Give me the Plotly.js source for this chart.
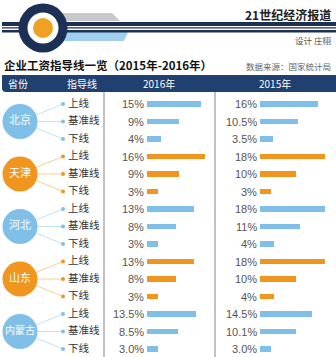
<!DOCTYPE html>
<html><head><meta charset="utf-8">
<script src="https://cdn.plot.ly/plotly-3.0.1.min.js"></script>
<style>html,body{margin:0;padding:0;background:#fff}#c{width:336px;height:357px}</style>
</head><body><div id="c"></div>
<script>
const provinces = ['北京','天津','河北','山东','内蒙古'];
const provColors = ['#7fbfe8','#f0961e','#7fbfe8','#f0961e','#7fbfe8'];
const lineTypes = ['上线','基准线','下线'];
const v2016 = [15,9,4,16,9,3,13,8,3,13,8,3,13.5,8.5,3.0];
const labels2016 = ['15%','9%','4%','16%','9%','3%','13%','8%','3%','13%','8%','3%','13.5%','8.5%','3.0%'];
const v2015 = [16,10.5,3.5,18,10,3,18,11,4,18,10,4,14.5,10.1,3.0];
const labels2015 = ['16%','10.5%','3.5%','18%','10%','3%','18%','11%','4%','18%','10%','4%','14.5%','10.1%','3.0%'];
const headers = ['省份','指导线','2016年','2015年'];
const title = '企业工资指导线一览（2015年-2016年）';
const source = '数据来源：国家统计局';
const brand = '21世纪经济报道';
const designer = '设计 庄栩';

const W=336,H=357;
const FONT='"Noto Sans CJK SC", "Noto Sans", sans-serif';
const NAVY='#1c2f55';
const px=x=>x/W, py=y=>1-y/H;
const rows=[...Array(15).keys()];
const rowColors=rows.map(i=>provColors[Math.floor(i/3)]);
const rowLabels=rows.map(i=>lineTypes[i%3]);

const traces=[];
provinces.forEach((p,k)=>{
  const mid=k*3+1;
  [0,1,2].forEach(j=>{
    traces.push({type:'scatter',mode:'lines',xaxis:'x',yaxis:'y',x:[20,63],y:[mid,k*3+j],
      line:{color:provColors[k],width:0.8},opacity:0.6,hoverinfo:'skip',showlegend:false});
  });
});
traces.push({type:'scatter',mode:'markers',xaxis:'x',yaxis:'y',x:rows.map(()=>63),y:rows,
  marker:{size:4,color:rowColors},hoverinfo:'skip',showlegend:false});
traces.push({type:'scatter',mode:'text',xaxis:'x',yaxis:'y',x:rows.map(()=>68),y:rows,text:rowLabels,
  textposition:'middle right',textfont:{family:FONT,size:10.5,color:'#333'},hoverinfo:'skip',showlegend:false});
traces.push({type:'scatter',mode:'markers+text',xaxis:'x',yaxis:'y',x:provinces.map(()=>20),
  y:provinces.map((p,k)=>k*3+1),text:provinces,textposition:'middle center',
  marker:{size:35,color:provColors,line:{width:0}},
  textfont:{family:FONT,size:provinces.map(p=>p.length>2?10:11),color:'#fff'},hoverinfo:'skip',showlegend:false});
traces.push({type:'bar',orientation:'h',xaxis:'x2',yaxis:'y',x:v2016,y:rows,width:0.3,
  marker:{color:rowColors},hoverinfo:'skip',showlegend:false});
traces.push({type:'bar',orientation:'h',xaxis:'x3',yaxis:'y',x:v2015,y:rows,width:0.3,
  marker:{color:rowColors},hoverinfo:'skip',showlegend:false});

const ann=[];
rows.forEach(i=>{
  ann.push({xref:'x2',yref:'y',x:0,y:i,text:labels2016[i],xanchor:'right',yanchor:'middle',xshift:-1,showarrow:false,
    font:{family:'"Liberation Sans", sans-serif',size:11,color:'#555'}});
  ann.push({xref:'x3',yref:'y',x:0,y:i,text:labels2015[i],xanchor:'right',yanchor:'middle',xshift:-1,showarrow:false,
    font:{family:'"Liberation Sans", sans-serif',size:11,color:'#555'}});
});
const hx=[18,82,159,275];
headers.forEach((h,k)=>ann.push({xref:'paper',yref:'paper',x:px(hx[k]),y:py(83.5),text:h,showarrow:false,
  xanchor:'center',yanchor:'middle',font:{family:FONT,size:10,color:'#fff'}}));
ann.push({xref:'paper',yref:'paper',x:px(2),y:py(65),text:'<b>'+title+'</b>',showarrow:false,xanchor:'left',yanchor:'middle',
  font:{family:FONT,size:11.5,color:'#111'}});
ann.push({xref:'paper',yref:'paper',x:px(333),y:py(66),text:source,showarrow:false,xanchor:'right',yanchor:'middle',
  font:{family:FONT,size:8.5,color:'#666'}});
ann.push({xref:'paper',yref:'paper',x:px(333),y:py(15),text:'<b>'+brand+'</b>',showarrow:false,xanchor:'right',yanchor:'middle',
  font:{family:FONT,size:12,color:'#222'}});
ann.push({xref:'paper',yref:'paper',x:px(333),y:py(40),text:designer,showarrow:false,xanchor:'right',yanchor:'middle',
  font:{family:FONT,size:8.5,color:'#555'}});

const shapes=[];
const R=(x0,y0,x1,y1,c)=>({type:'rect',xref:'paper',yref:'paper',x0:px(x0),x1:px(x1),y0:py(y0),y1:py(y1),fillcolor:c,line:{width:0},layer:'below'});
const C=(cx,cy,r,c)=>({type:'circle',xref:'paper',yref:'paper',x0:px(cx-r),x1:px(cx+r),y0:py(cy+r),y1:py(cy-r),fillcolor:c,line:{width:0},layer:'below'});
const P=(pts,c)=>({type:'path',xref:'paper',yref:'paper',path:'M'+pts.map(p=>px(p[0])+','+py(p[1])).join('L')+'Z',fillcolor:c,line:{width:0},layer:'below'});
shapes.push(P([[45,13],[112,13],[120,21],[45,21]],'#c9c9c9'));
shapes.push(P([[50,32],[128,32],[124,41],[58,41]],'#9fd0ee'));
shapes.push(R(2,22,336,26,NAVY));
shapes.push(R(2,27.2,336,28.6,NAVY));
shapes.push(R(2,30,336,32.5,NAVY));
shapes.push(C(43,28,24.5,NAVY));
shapes.push(C(43,28,15.5,'#fff'));
shapes.push(C(43,28,10,'#f0a124'));
shapes.push({type:'path',xref:'paper',yref:'paper',layer:'below',fillcolor:'#20406f',line:{width:0},
  path:`M${px(2)},${py(75)}L${px(336)},${py(75)}L${px(336)},${py(92)}L${px(6)},${py(92)}Q${px(2)},${py(92)} ${px(2)},${py(88)}Z`});
[104,215].forEach(x=>shapes.push({type:'line',xref:'paper',yref:'paper',x0:px(x),x1:px(x),y0:py(92),y1:0,line:{color:'#9a9a9a',width:1.2},layer:'below'}));

const layout={width:W,height:H,margin:{l:0,r:0,t:0,b:0},paper_bgcolor:'#fff',plot_bgcolor:'rgba(0,0,0,0)',
  showlegend:false,bargap:0,
  xaxis:{domain:[0,1],range:[0,W],visible:false,fixedrange:true},
  xaxis2:{domain:[147/W,215/W],range:[0,68/3.6],visible:false,anchor:'y'},
  xaxis3:{domain:[260/W,1],range:[0,76/3.6],visible:false,anchor:'y'},
  yaxis:{domain:[0,1],range:[(H-104)/17.5,-104/17.5],visible:false},
  annotations:ann,shapes:shapes};
Plotly.newPlot('c',traces,layout,{staticPlot:true,displayModeBar:false});
</script></body></html>
